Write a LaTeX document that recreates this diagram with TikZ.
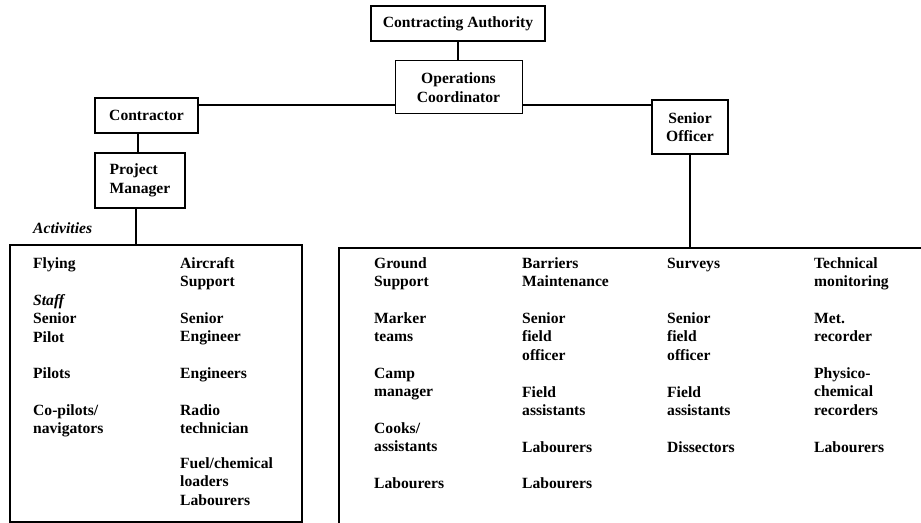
\documentclass[tikz,border=0pt]{standalone}
\usepackage{fontspec}
\setmainfont{Liberation Serif}
\begin{document}
\begin{tikzpicture}[x=1bp,y=-1bp,
  every node/.style={font=\fontsize{15.6bp}{18.5bp}\selectfont\bfseries},
  box/.style={draw, line width=1.8bp, fill=white, align=center, inner sep=0pt},
  txt/.style={align=left, inner sep=0pt, anchor=north west},
  conn/.style={line width=1.8bp}]
\useasboundingbox (0,0) rectangle (921,523);
\newcommand\itm[4]{\node[txt] (#1) at (#2,#3-7) {\rule{0pt}{12bp}#4};}
% boxes
\node[box, minimum width=174bp, minimum height=35bp] (ca) at (458,23.5) {Contracting Authority};
\node[box, line width=1bp, minimum width=127bp, minimum height=53bp] (ops) at (458.5,87.5) {Operations\\Coordinator};
\node[box, line width=2.4bp, minimum width=103bp, minimum height=35bp] (con) at (146.5,115.5) {Contractor};
\node[box, minimum width=76bp, minimum height=54bp] (so) at (690,127) {Senior\\Officer};
\node[box, line width=2.6bp, align=left, minimum width=90bp, minimum height=55bp] (pm) at (140,180.5) {Project\\Manager};
\node[draw, line width=1.8bp, inner sep=0pt, minimum width=292bp, minimum height=277bp] (lbox) at (156,383.5) {};
\node[draw, line width=1.8bp, inner sep=0pt, anchor=north west, minimum width=620bp, minimum height=300bp] (rbox) at (338,247) {};
% connectors
\coordinate (hl) at (0,105);
\coordinate (v1) at (138,0);
\coordinate (v2) at (136,0);
\draw[conn] (ca.south) -- (ca.south |- ops.north);
\draw[conn] (con.east |- hl) -- (ops.west |- hl);
\draw[conn] (ops.east |- hl) -- (so.west |- hl);
\draw[conn] (v1 |- con.south) -- (v1 |- pm.north);
\draw[conn] (v2 |- pm.south) -- (v2 |- lbox.north);
\draw[conn] (so.south) -- (so.south |- rbox.north);
% label
\node[anchor=west, inner sep=0pt, font=\fontsize{15.6bp}{18.5bp}\selectfont\bfseries\itshape] (act) at (33,228) {Activities};
% left box
\itm{l1}{33}{263}{Flying}
\itm{l2}{33}{300}{\textit{Staff}\\Senior\\Pilot}
\itm{l3}{33}{373}{Pilots}
\itm{l4}{33}{410}{Co-pilots/\\navigators}
\itm{m1}{180}{263}{Aircraft\\Support}
\itm{m2}{180}{318}{Senior\\Engineer}
\itm{m3}{180}{373}{Engineers}
\itm{m4}{180}{410}{Radio\\technician}
\itm{m5}{180}{463}{Fuel/chemical\\loaders\\Labourers}
% right box
\itm{a1}{374}{263}{Ground\\Support}
\itm{a2}{374}{318}{Marker\\teams}
\itm{a3}{374}{373}{Camp\\manager}
\itm{a4}{374}{428}{Cooks/\\assistants}
\itm{a5}{374}{483}{Labourers}
\itm{b1}{522}{263}{Barriers\\Maintenance}
\itm{b2}{522}{318}{Senior\\field\\officer}
\itm{b3}{522}{392}{Field\\assistants}
\itm{b4}{522}{447}{Labourers}
\itm{b5}{522}{483}{Labourers}
\itm{c1}{667}{263}{Surveys}
\itm{c2}{667}{318}{Senior\\field\\officer}
\itm{c3}{667}{392}{Field\\assistants}
\itm{c4}{667}{447}{Dissectors}
\itm{d1}{814}{263}{Technical\\monitoring}
\itm{d2}{814}{318}{Met.\\recorder}
\itm{d3}{814}{373}{Physico-\\chemical\\recorders}
\itm{d4}{814}{447}{Labourers}
\end{tikzpicture}
\end{document}
